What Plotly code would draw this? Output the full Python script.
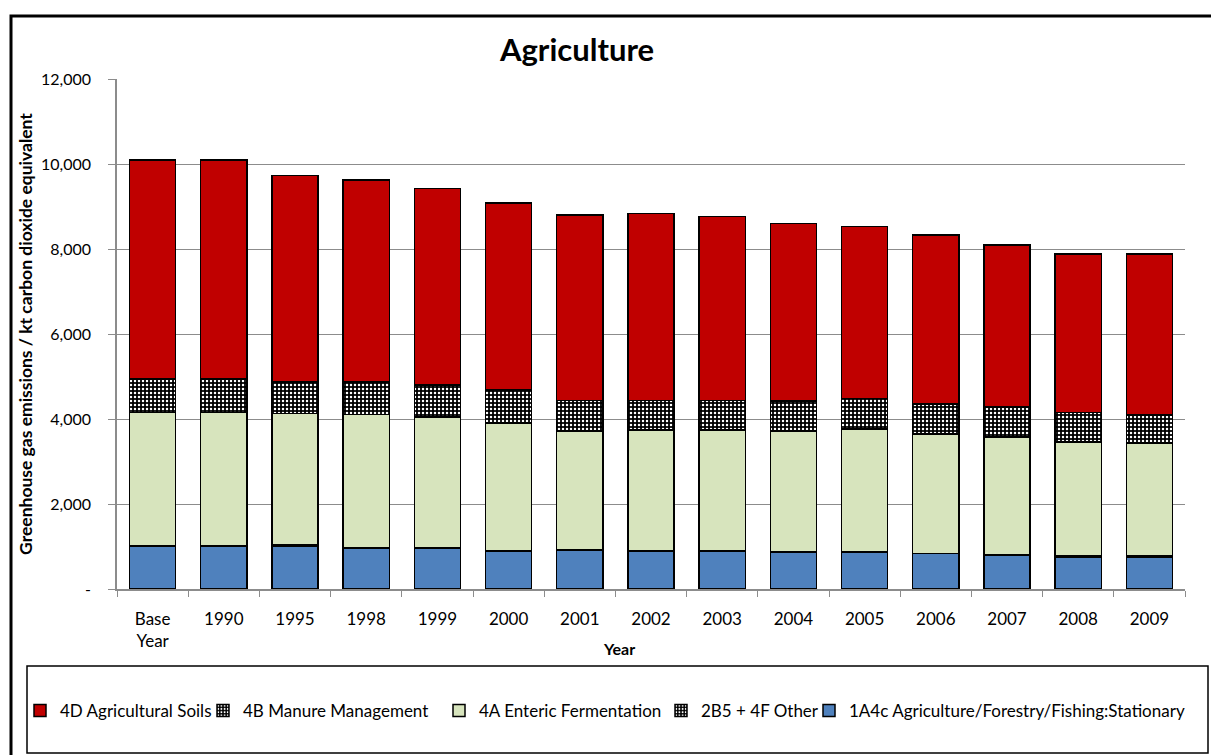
import plotly.graph_objects as go

# Emission categories along the x axis
years = ["Base<br>Year", "1990", "1995", "1998", "1999", "2000", "2001", "2002",
         "2003", "2004", "2005", "2006", "2007", "2008", "2009"]

# Emissions by source, kt CO2 equivalent (stacked bottom to top)
stationary = [1000, 1000, 1010, 960, 960, 900, 920, 890, 890, 860, 860, 830, 790, 750, 750]
other = [10, 10, 30, 10, 10, 10, 10, 10, 10, 10, 10, 10, 15, 40, 40]
enteric = [3140, 3140, 3090, 3140, 3080, 3000, 2790, 2840, 2840, 2850, 2900, 2810, 2775, 2670, 2640]
manure = [790, 790, 740, 760, 750, 770, 720, 700, 700, 700, 710, 700, 700, 690, 670]
soils = [5160, 5160, 4860, 4750, 4620, 4400, 4360, 4400, 4330, 4180, 4050, 3980, 3810, 3730, 3780]

y_ticks = [0, 2000, 4000, 6000, 8000, 10000, 12000]
y_tick_text = ["-", "2,000", "4,000", "6,000", "8,000", "10,000", "12,000"]

FONT = "Lato"
W, H = 1211, 755
L, R, T, B = 117, 26, 79, 166
PW, PH = W - L - R, H - T - B


def px_x(x):
    return (x - L) / PW


def px_y(y):
    return (H - B - y) / PH


line = dict(color="black", width=1.5)
dots = dict(shape=".", bgcolor="black", fgcolor="white", size=4, solidity=0.3, fillmode="replace")

fig = go.Figure()
fig.add_trace(go.Bar(x=years, y=stationary, name="1A4c Agriculture/Forestry/Fishing:Stationary",
                     marker=dict(color="#4F81BD", line=line), legend="legend5"))
fig.add_trace(go.Bar(x=years, y=other, name="2B5 + 4F Other",
                     marker=dict(color="black", line=line, pattern=dots), legend="legend4"))
fig.add_trace(go.Bar(x=years, y=enteric, name="4A Enteric Fermentation",
                     marker=dict(color="#D7E4BD", line=line), legend="legend3"))
fig.add_trace(go.Bar(x=years, y=manure, name="4B Manure Management",
                     marker=dict(color="black", line=line, pattern=dots), legend="legend2"))
fig.add_trace(go.Bar(x=years, y=soils, name="4D Agricultural Soils",
                     marker=dict(color="#C00000", line=line), legend="legend"))


def legend_at(text_x):
    # one legend entry per box, laid out along the bottom row
    return dict(orientation="h", x=px_x(text_x - 40), y=px_y(711),
                xanchor="left", yanchor="middle", xref="paper", yref="paper",
                font=dict(size=17, family=FONT), itemwidth=30,
                bgcolor="rgba(0,0,0,0)", borderwidth=0)


fig.update_layout(
    width=W, height=H,
    margin=dict(l=L, r=R, t=T, b=B),
    barmode="stack", bargap=0.35,
    paper_bgcolor="white", plot_bgcolor="white",
    font=dict(family=FONT, size=16, color="black"),
    title=dict(text="<b>Agriculture</b>", font=dict(size=31, family=FONT),
               x=px_x(577), xref="paper", xanchor="center",
               y=1 - 50 / H, yanchor="middle"),
    showlegend=True,
    legend=legend_at(60),
    legend2=legend_at(243),
    legend3=legend_at(479),
    legend4=legend_at(701),
    legend5=legend_at(849),
    xaxis=dict(
        showline=True, linecolor="#8c8c8c", linewidth=1.5,
        ticks="outside", tickson="boundaries", ticklen=6, tickcolor="#8c8c8c",
        ticklabelstandoff=14,
        tickfont=dict(size=17), showgrid=False,
    ),
    yaxis=dict(
        title=dict(text="<b>Greenhouse gas emissions / kt carbon dioxide equivalent</b>",
                   font=dict(size=17.5), standoff=4),
        range=[0, 12000], tickvals=y_ticks, ticktext=y_tick_text,
        showline=True, linecolor="#8c8c8c", linewidth=1.5,
        ticks="outside", ticklen=7, tickcolor="#8c8c8c",
        ticklabelstandoff=14,
        showgrid=True, gridcolor="#8c8c8c", gridwidth=1,
        tickfont=dict(size=16), zeroline=False,
    ),
    annotations=[
        # x axis title
        dict(text="<b>Year</b>", xref="paper", yref="paper",
             x=px_x(619), y=px_y(648), xanchor="center", yanchor="middle",
             showarrow=False, font=dict(size=16, family=FONT)),
    ],
    shapes=[
        # outer chart frame
        dict(type="rect", xref="paper", yref="paper",
             x0=px_x(11), x1=px_x(1216), y0=px_y(760), y1=px_y(16),
             line=dict(color="black", width=3), fillcolor="rgba(0,0,0,0)", layer="below"),
        # legend box
        dict(type="rect", xref="paper", yref="paper",
             x0=px_x(27), x1=px_x(1208), y0=px_y(753), y1=px_y(666),
             line=dict(color="black", width=1.5), fillcolor="rgba(0,0,0,0)", layer="below"),
    ],
)

fig.write_html("out.html")
